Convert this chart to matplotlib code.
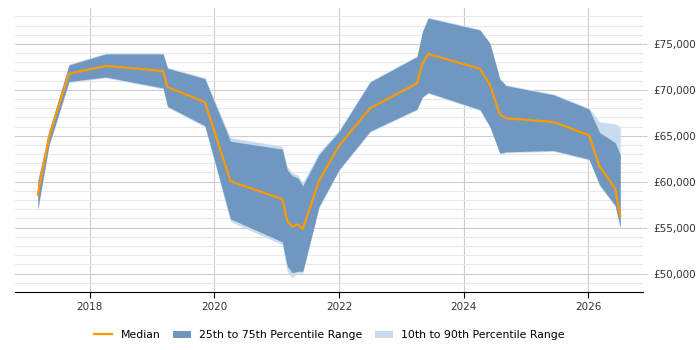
import matplotlib.pyplot as plt
from matplotlib.ticker import FuncFormatter, MultipleLocator

# Data (x in fractional years)
years = [2017.17, 2017.35, 2017.67, 2018.26, 2019.18, 2019.25, 2019.85, 2020.26,
         2021.09, 2021.17, 2021.25, 2021.34, 2021.42, 2021.68, 2022.00, 2022.50,
         2023.25, 2023.34, 2023.43, 2024.26, 2024.42, 2024.58, 2024.68, 2025.44,
         2026.01, 2026.18, 2026.43, 2026.51]

median = [58600, 64900, 71750, 72600, 72050, 70300, 68650, 60050,
          58100, 55750, 55100, 55350, 54850, 60100, 63900, 68000,
          70700, 72900, 73900, 72300, 70550, 67300, 66900, 66500,
          65050, 61650, 59250, 56250]

p25 = [57000, 64000, 70900, 71400, 70200, 68200, 66100, 55950,
       53450, 50800, 50100, 50250, 50250, 57300, 61300, 65500,
       67900, 69250, 69700, 67850, 66000, 63100, 63250, 63400,
       62450, 59650, 57400, 55000]

p75 = [60050, 65500, 72700, 73900, 73900, 72350, 71200, 64400,
       63550, 61300, 60650, 60400, 59550, 62950, 65450, 70850,
       73600, 76350, 77800, 76500, 75050, 71150, 70450, 69450,
       67900, 65350, 64250, 62950]

p10 = [56900, 63900, 70800, 71300, 70100, 68100, 65950, 55650,
       53150, 50250, 49550, 50050, 50050, 57150, 61200, 65400,
       67800, 69150, 69600, 67750, 65900, 63000, 63150, 63300,
       62350, 59550, 57300, 54800]

p90 = [60150, 65600, 72800, 74000, 74000, 72450, 71350, 64800,
       63850, 61650, 60950, 60750, 59900, 63200, 65600, 70950,
       73700, 76450, 77900, 76600, 75150, 71250, 70550, 69550,
       68000, 66500, 66300, 66000]

x_ticks = [2018, 2020, 2022, 2024, 2026]


def main():
    fig = plt.figure(figsize=(7, 3.5), dpi=100)
    ax = fig.add_axes([0.021, 0.166, 0.898, 0.811])

    ax.fill_between(years, p10, p90, color="#c9dbee", linewidth=0,
                    label="10th to 90th Percentile Range", zorder=2)
    ax.fill_between(years, p25, p75, color="#7097bf", linewidth=0,
                    label="25th to 75th Percentile Range", zorder=3)
    ax.plot(years, median, color="#ff9900", linewidth=1.6, label="Median", zorder=4)

    ax.set_xlim(2016.8, 2026.88)
    ax.set_ylim(48000, 78900)

    ax.set_xticks(x_ticks)
    ax.set_xticklabels([str(y) for y in x_ticks])
    ax.yaxis.set_major_locator(MultipleLocator(5000))
    ax.yaxis.set_minor_locator(MultipleLocator(1000))
    ax.yaxis.set_major_formatter(FuncFormatter(lambda v, p: f"£{int(v):,}"))
    ax.yaxis.tick_right()

    ax.grid(True, which="major", axis="y", color="#cccccc", linewidth=0.8, zorder=0)
    ax.grid(True, which="minor", axis="y", color="#e8e8e8", linewidth=0.8, zorder=0)
    ax.grid(True, which="major", axis="x", color="#cccccc", linewidth=0.8, zorder=0)
    ax.set_axisbelow(True)

    for side in ["top", "left", "right"]:
        ax.spines[side].set_visible(False)
    ax.spines["bottom"].set_color("black")

    ax.tick_params(axis="y", which="major", length=3, color="#cccccc",
                   labelsize=7.5, labelcolor="#333333", pad=4)
    ax.tick_params(axis="y", which="minor", length=0)
    ax.tick_params(axis="x", length=4, labelsize=7.5, labelcolor="#333333")

    # legend order: median, 25-75, 10-90
    handles, labels = ax.get_legend_handles_labels()
    order = [2, 1, 0]
    fig.legend([handles[i] for i in order], [labels[i] for i in order],
               loc="lower center", ncol=3, frameon=False, fontsize=7.8,
               bbox_to_anchor=(0.471, 0.0), handlelength=1.6, columnspacing=1.2)

    fig.savefig("out.png", dpi=100)


if __name__ == "__main__":
    main()
